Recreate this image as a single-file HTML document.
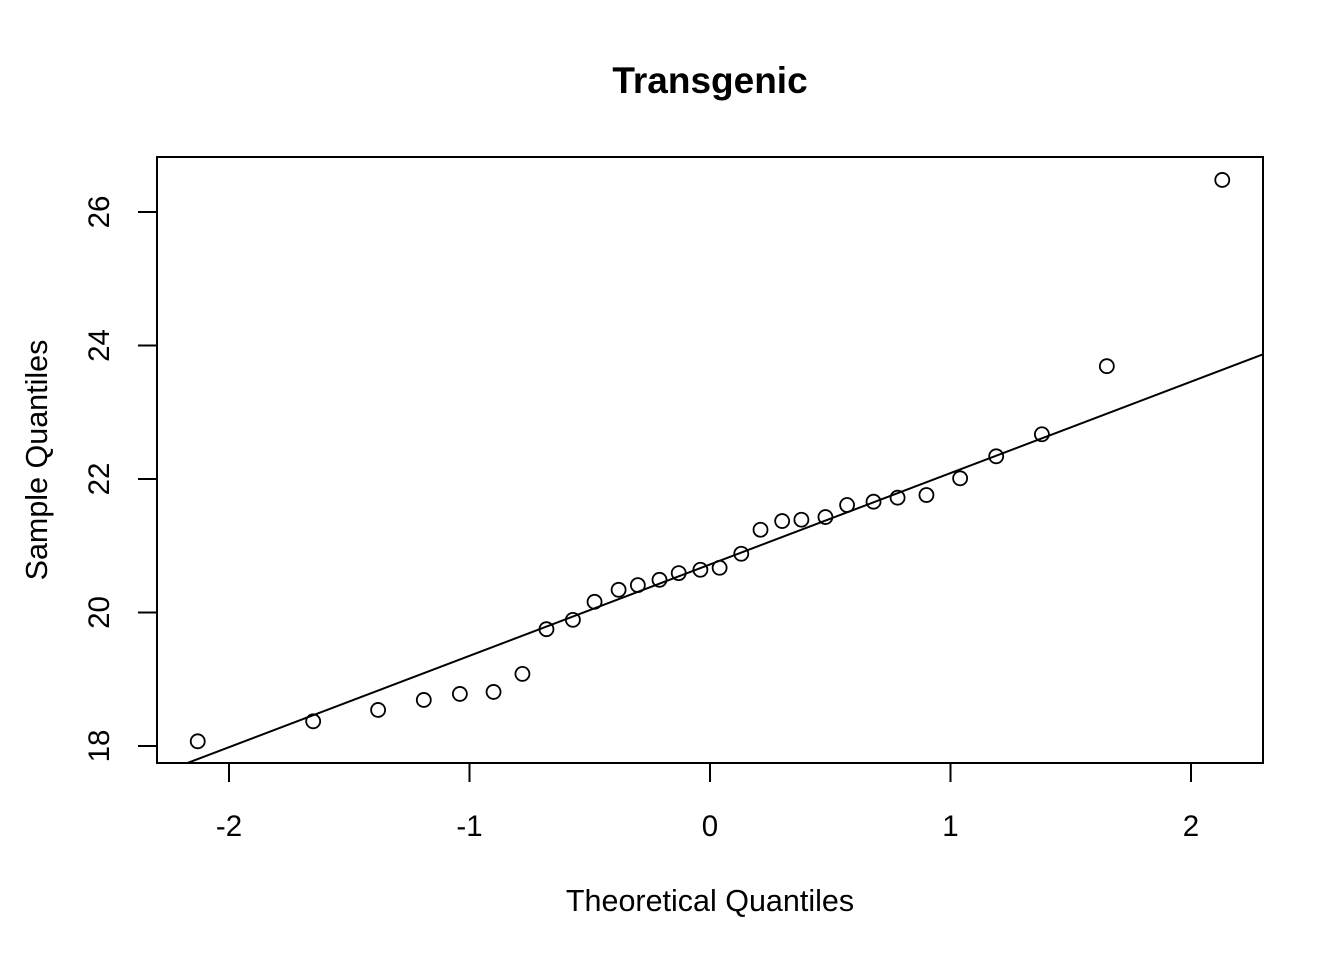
<!DOCTYPE html>
<html><head><meta charset="utf-8"><style>
html,body{margin:0;padding:0;background:#fff;}
svg{display:block;font-family:"Liberation Sans",Arial,sans-serif;}
</style></head><body>
<svg id="chart" width="1344" height="960" viewBox="0 0 1344 960">
<text x="710" y="93" text-anchor="middle" font-size="37" font-weight="bold">Transgenic</text>
<text x="710" y="911" text-anchor="middle" font-size="30.5">Theoretical Quantiles</text>
<text transform="translate(47,460) rotate(-90)" text-anchor="middle" font-size="30.5">Sample Quantiles</text>
<rect x="157" y="157" width="1106" height="606" fill="none" stroke="#000" stroke-width="2"/>
<g id="ticks"></g>
<g id="marks"></g>
</svg>
<script>
const theoretical=[-2.13,-1.65,-1.38,-1.19,-1.04,-0.90,-0.78,-0.68,-0.57,-0.48,-0.38,-0.30,-0.21,-0.13,-0.04,0.04,0.13,0.21,0.30,0.38,0.48,0.57,0.68,0.78,0.90,1.04,1.19,1.38,1.65,2.13];
const sample=[18.07,18.37,18.54,18.69,18.78,18.81,19.08,19.75,19.89,20.16,20.34,20.41,20.49,20.59,20.64,20.67,20.88,21.24,21.37,21.39,21.43,21.61,21.66,21.72,21.76,22.01,22.34,22.67,23.69,26.48];
const xTicks=[-2,-1,0,1,2];
const yTicks=[18,20,22,24,26];
const qqLine=[20.72,1.369]; // intercept, slope
const NS="http://www.w3.org/2000/svg";
const X0=157,X1=1263,Y0=157,Y1=763;
function sx(v){return 710+v*240.5;}
function sy(v){return 746-(v-18)*66.75;}
function mk(t,a,p){const e=document.createElementNS(NS,t);for(const k in a)e.setAttribute(k,a[k]);p.appendChild(e);return e;}
const tg=document.getElementById('ticks'),mg=document.getElementById('marks');
xTicks.forEach(v=>{
  const l=mk('line',{x1:sx(v),x2:sx(v),y1:763,y2:782,stroke:'#000','stroke-width':2},tg);
  
  
  const t=mk('text',{x:sx(v),y:836,'text-anchor':'middle','font-size':29.5},tg);t.textContent=v;
  
  
});
yTicks.forEach(v=>{
  const l=mk('line',{x1:157,x2:138,y1:sy(v),y2:sy(v),stroke:'#000','stroke-width':2},tg);
  
  
  const t=mk('text',{transform:`translate(109,${sy(v)}) rotate(-90)`,'text-anchor':'middle','font-size':29.5},tg);t.textContent=v;
  
  
});
const cp=mk('clipPath',{id:'clip'},document.getElementById('chart'));
mk('rect',{x:X0,y:Y0,width:X1-X0,height:Y1-Y0},cp);
const ln=mk('line',{x1:sx(-2.5),y1:sy(qqLine[0]+qqLine[1]*-2.5),x2:sx(2.5),y2:sy(qqLine[0]+qqLine[1]*2.5),stroke:'#000','stroke-width':2,'clip-path':'url(#clip)'},mg);


theoretical.forEach((x,i)=>{
  const c=mk('circle',{cx:sx(x),cy:sy(sample[i]),r:7,fill:'none',stroke:'#000','stroke-width':1.8},mg);
  
  
});
</script>
</body></html>
